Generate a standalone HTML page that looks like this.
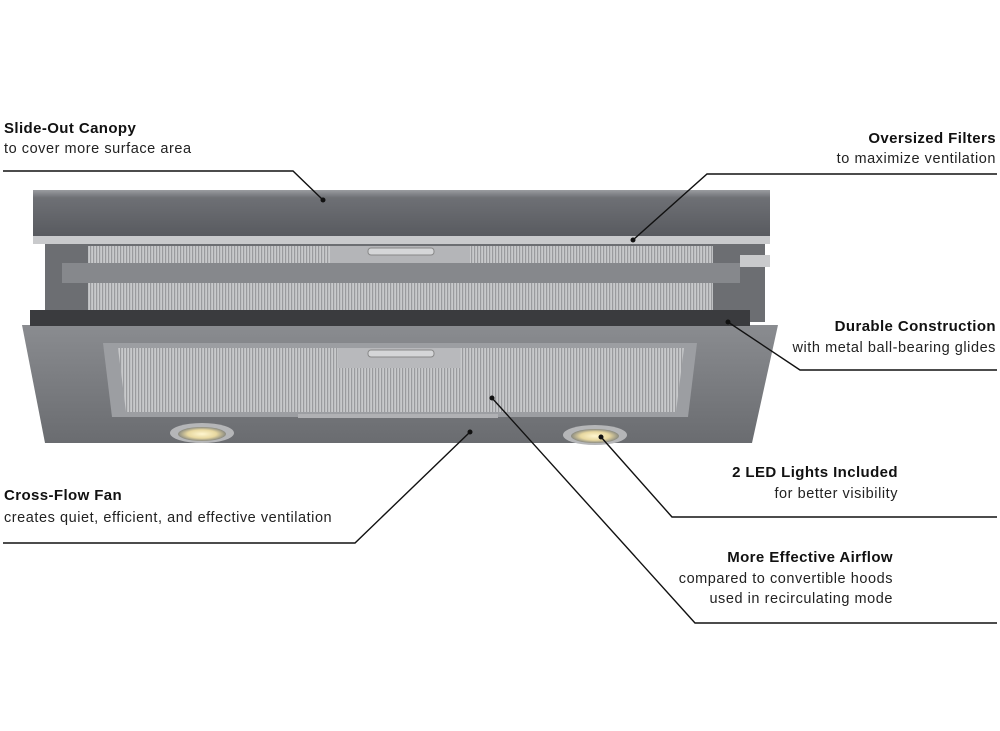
<!DOCTYPE html>
<html><head><meta charset="utf-8"><style>
html,body{margin:0;padding:0;background:#fff;}
svg{display:block;}
text{font-family:"Liberation Sans",sans-serif;fill:#222;}
.t{font-weight:bold;font-size:15px;fill:#111;letter-spacing:0.4px;}
.s{font-size:14.5px;letter-spacing:0.55px;}
</style></head><body>
<svg width="1000" height="731" viewBox="0 0 1000 731" xmlns="http://www.w3.org/2000/svg">
<defs>
<linearGradient id="can" x1="0" y1="0" x2="0" y2="1">
<stop offset="0" stop-color="#9a9ca0"/><stop offset="0.15" stop-color="#6e7075"/><stop offset="1" stop-color="#55575c"/>
</linearGradient>
<linearGradient id="body" x1="0" y1="0" x2="0" y2="1">
<stop offset="0" stop-color="#8a8c90"/><stop offset="1" stop-color="#6a6c70"/>
</linearGradient>
<pattern id="mesh" width="3" height="10" patternUnits="userSpaceOnUse">
<rect width="3" height="10" fill="#c8c9cb"/><rect width="1.2" height="10" fill="#9a9b9e"/>
</pattern>
<radialGradient id="lamp"><stop offset="0" stop-color="#fff6d0"/><stop offset="0.6" stop-color="#e8d8a0"/><stop offset="1" stop-color="#8a8a80"/></radialGradient>
</defs>
<polygon points="22,325 778,325 752,443 45,443" fill="url(#body)"/>
<rect x="45" y="242" width="720" height="80" fill="#6c6e72"/>
<rect x="88" y="246" width="625" height="68" fill="url(#mesh)"/>
<rect x="330" y="246" width="140" height="18" fill="#b4b5b8"/>
<rect x="368" y="248" width="66" height="7" rx="3" fill="#d5d6d8" stroke="#888"/>
<rect x="62" y="263" width="678" height="20" fill="#86888c"/>
<rect x="30" y="310" width="720" height="16" fill="#3a3b3e"/>
<rect x="33" y="190" width="737" height="52" fill="url(#can)"/>
<rect x="33" y="236" width="737" height="8" fill="#c9cacc"/>
<rect x="740" y="255" width="30" height="12" fill="#c9cacc"/>
<polygon points="103,343 697,343 688,417 112,417" fill="#9c9ea2"/>
<polygon points="118,348 684,348 676,412 126,412" fill="url(#mesh)"/>
<rect x="338" y="348" width="122" height="20" fill="#b8b9bc"/>
<rect x="368" y="350" width="66" height="7" rx="3" fill="#d5d6d8" stroke="#888"/>
<rect x="298" y="414" width="200" height="4" fill="#b0b1b4"/>
<ellipse cx="202" cy="433" rx="32" ry="10" fill="#b5b6b8"/>
<ellipse cx="202" cy="434" rx="24" ry="7" fill="url(#lamp)"/>
<ellipse cx="595" cy="435" rx="32" ry="10" fill="#b5b6b8"/>
<ellipse cx="595" cy="436" rx="24" ry="7" fill="url(#lamp)"/>
<g stroke="#111" stroke-width="1.4" fill="none">
<polyline points="3,171 293,171 323,200"/>
<polyline points="997,174 707,174 633,240"/>
<polyline points="997,370 800,370 728,322"/>
<polyline points="997,517 672,517 601,437"/>
<polyline points="997,623 695,623 492,398"/>
<polyline points="3,543 355,543 470,432"/>
</g>
<g fill="#111">
<circle cx="323" cy="200" r="2.5"/><circle cx="633" cy="240" r="2.5"/><circle cx="728" cy="322" r="2.5"/>
<circle cx="601" cy="437" r="2.5"/><circle cx="492" cy="398" r="2.5"/><circle cx="470" cy="432" r="2.5"/>
</g>
<text class="t" x="4" y="133">Slide-Out Canopy</text>
<text class="s" x="4" y="153">to cover more surface area</text>
<text class="t" x="996" y="143" text-anchor="end">Oversized Filters</text>
<text class="s" x="996" y="163" text-anchor="end">to maximize ventilation</text>
<text class="t" x="996" y="331" text-anchor="end">Durable Construction</text>
<text class="s" x="996" y="352" text-anchor="end">with metal ball-bearing glides</text>
<text class="t" x="898" y="477" text-anchor="end">2 LED Lights Included</text>
<text class="s" x="898" y="498" text-anchor="end">for better visibility</text>
<text class="t" x="4" y="500">Cross-Flow Fan</text>
<text class="s" x="4" y="522">creates quiet, efficient, and effective ventilation</text>
<text class="t" x="893" y="562" text-anchor="end">More Effective Airflow</text>
<text class="s" x="893" y="583" text-anchor="end">compared to convertible hoods</text>
<text class="s" x="893" y="603" text-anchor="end">used in recirculating mode</text>
</svg>
</body></html>
